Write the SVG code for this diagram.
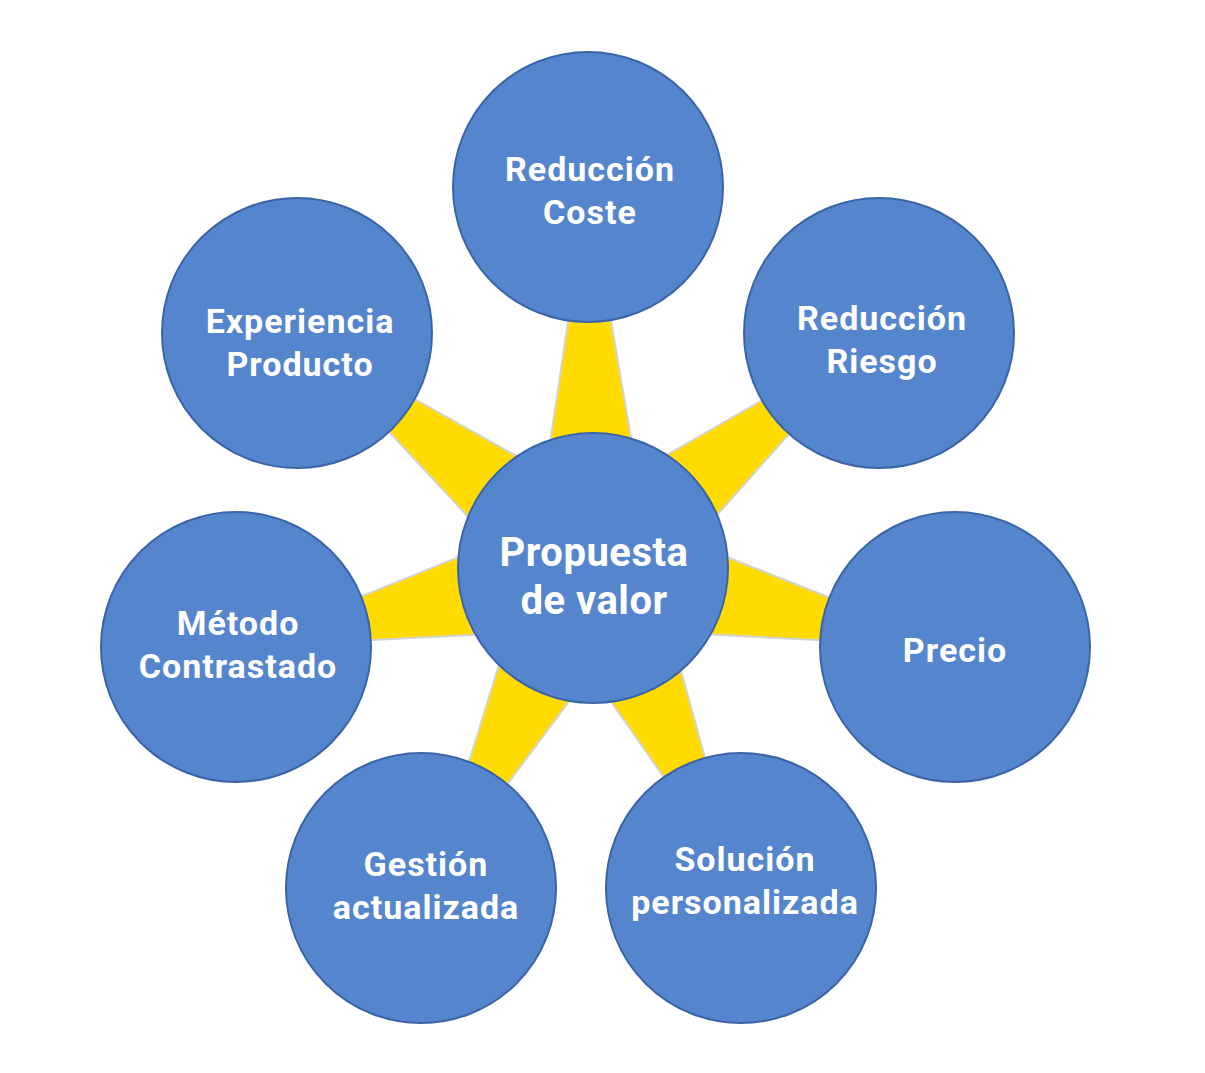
<svg xmlns="http://www.w3.org/2000/svg" width="1205" height="1073" viewBox="0 0 1205 1073">
<style>
.n circle{fill:#5586CD;stroke:#3B64A8;stroke-width:2}
.n text{fill:#fff;font-family:Roboto,"Liberation Sans",sans-serif;font-weight:bold;font-size:34px;text-anchor:middle;letter-spacing:1px}
.c polygon{fill:#FFDB00;stroke:#D4D4D4;stroke-width:2;stroke-linejoin:round}
</style>
<rect width="1205" height="1073" fill="#fff"/>
<g id="connectors" class="c">
<polygon points="531.5,567.5 653.5,568.5 588,187"/>
<polygon points="564,514 622,622 879,333"/>
<polygon points="605,509 580,628 955,647"/>
<polygon points="643,533 543,604 741,888"/>
<polygon points="535,548 652,590 430,888"/>
<polygon points="580,508 606,628 236,647"/>
<polygon points="620,514 566,622 297,333"/>
</g>
<g id="n-reduccion-coste" class="n"><circle cx="588" cy="187" r="135"/><text x="590" y="181">Reducción</text><text x="590" y="224">Coste</text></g>
<g id="n-reduccion-riesgo" class="n"><circle cx="879" cy="333" r="135"/><text x="882" y="330">Reducción</text><text x="882" y="373">Riesgo</text></g>
<g id="n-precio" class="n"><circle cx="955" cy="647" r="135"/><text x="955" y="662">Precio</text></g>
<g id="n-solucion" class="n"><circle cx="741" cy="888" r="135"/><text x="745" y="871">Solución</text><text x="745" y="914">personalizada</text></g>
<g id="n-gestion" class="n"><circle cx="421" cy="888" r="135"/><text x="426" y="876">Gestión</text><text x="426" y="919">actualizada</text></g>
<g id="n-metodo" class="n"><circle cx="236" cy="647" r="135"/><text x="238" y="635">Método</text><text x="238" y="678">Contrastado</text></g>
<g id="n-experiencia" class="n"><circle cx="297" cy="333" r="135"/><text x="300" y="333">Experiencia</text><text x="300" y="376">Producto</text></g>
<g id="n-propuesta" class="n"><circle cx="593" cy="568" r="135"/><text x="594" y="566" style="font-size:40px;letter-spacing:0.5px">Propuesta</text><text x="594" y="614" style="font-size:40px;letter-spacing:0.5px">de valor</text></g>
</svg>
